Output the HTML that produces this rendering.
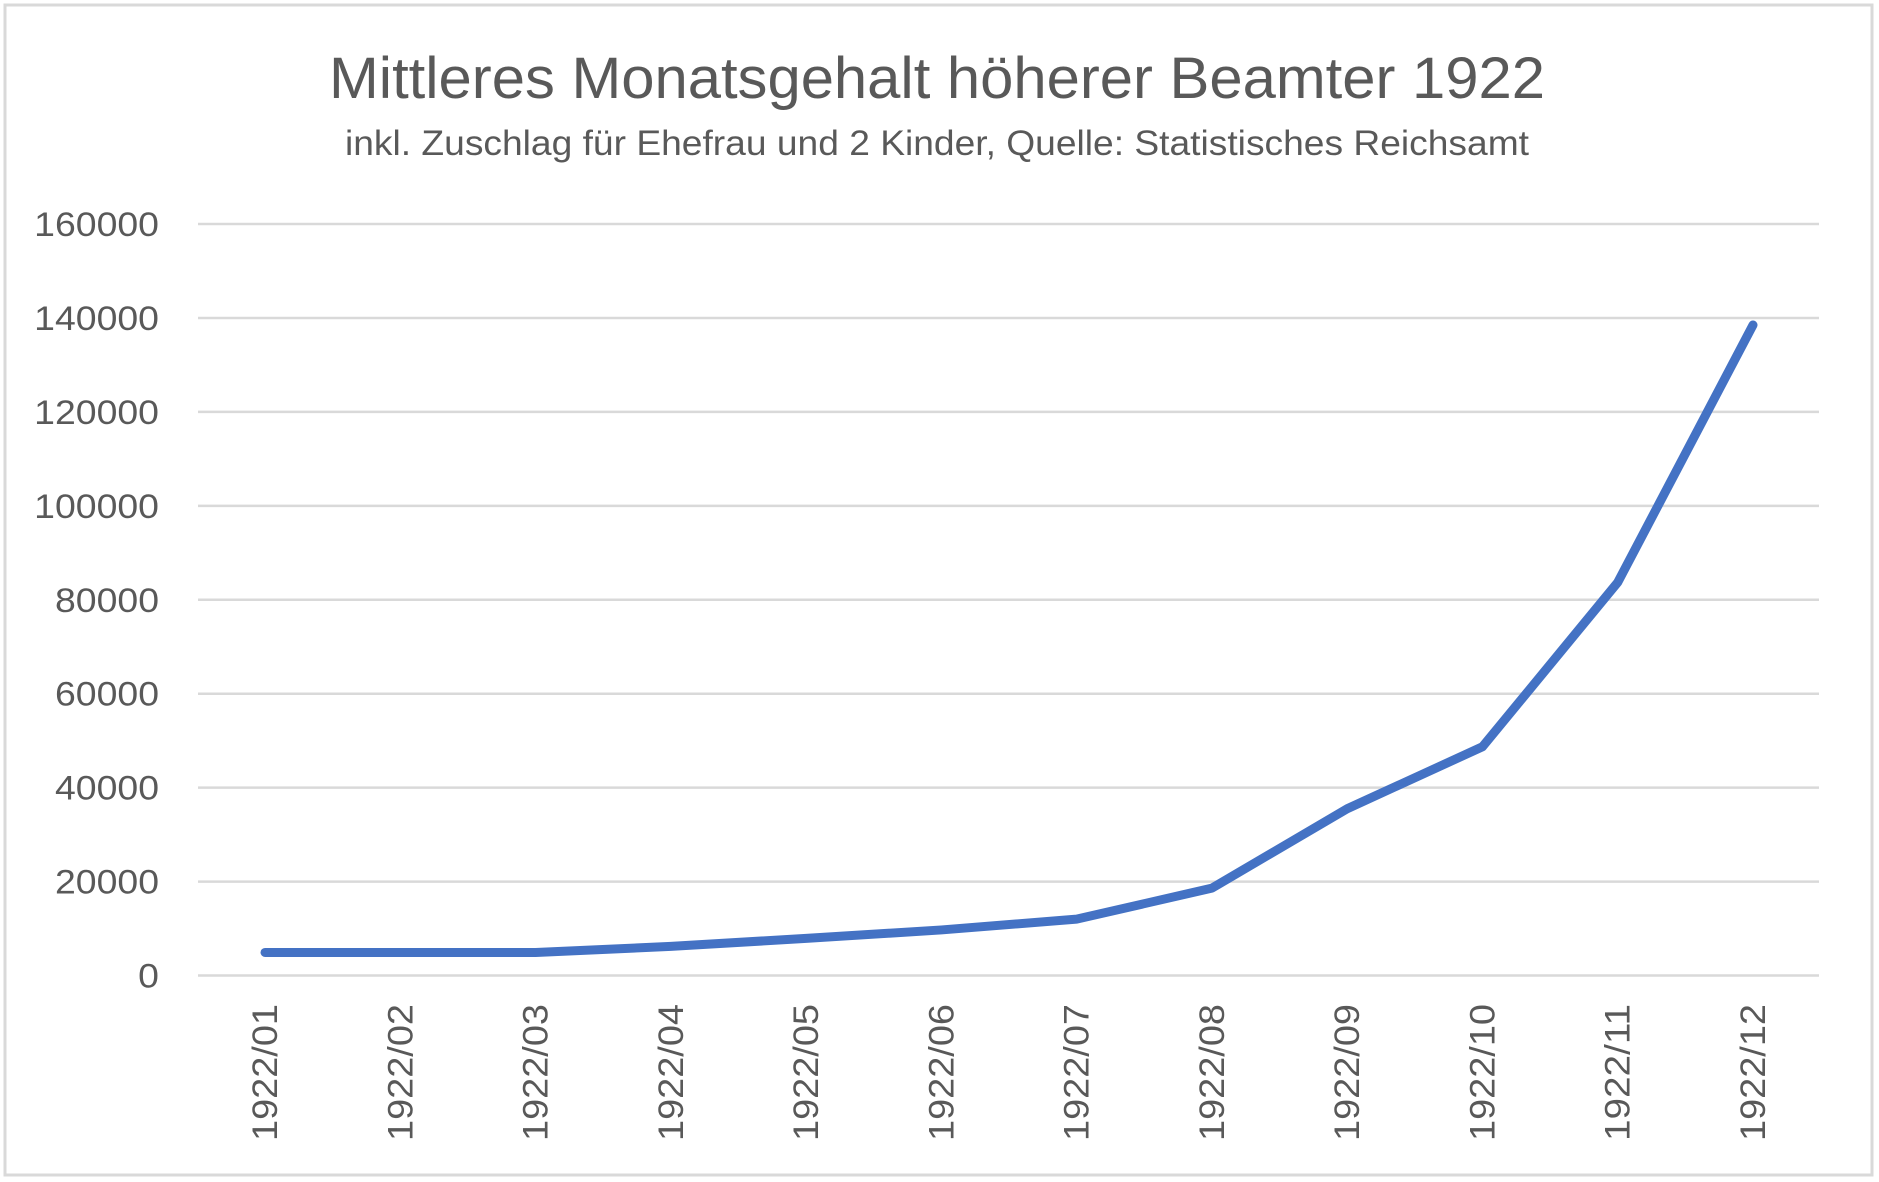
<!DOCTYPE html>
<html><head><meta charset="utf-8"><style>
html,body{margin:0;padding:0;background:#fff}
svg{display:block}
text{font-family:"Liberation Sans",sans-serif;fill:#595959}
</style></head><body>
<svg id="chart" width="1879" height="1182">
<rect x="5" y="5" width="1867" height="1170" fill="#fff" stroke="#d9d9d9" stroke-width="3"/>
<text x="937" y="98" font-size="58" text-anchor="middle" textLength="1216" lengthAdjust="spacingAndGlyphs">Mittleres Monatsgehalt höherer Beamter 1922</text>
<text x="937" y="155" font-size="35" text-anchor="middle" textLength="1184" lengthAdjust="spacingAndGlyphs">inkl. Zuschlag für Ehefrau und 2 Kinder, Quelle: Statistisches Reichsamt</text>
<g id="grid"></g><g id="yl"></g><g id="xl"></g><g id="series"></g>
</svg>
<script>
const categories=["1922/01","1922/02","1922/03","1922/04","1922/05","1922/06","1922/07","1922/08","1922/09","1922/10","1922/11","1922/12"];
const salaries=[4900,4900,4900,6200,7900,9700,12000,18600,35500,48700,83700,138500];
const yTicks=[0,20000,40000,60000,80000,100000,120000,140000,160000];
const NS="http://www.w3.org/2000/svg";
const L=198,R=1819,Y0=975.5,Y1=224,X0=265,X1=1753;
const y=v=>Y0-(v/160000)*(Y0-Y1);
const x=i=>X0+i*(X1-X0)/(categories.length-1);
function mk(t,a,p){const e=document.createElementNS(NS,t);for(const k in a)e.setAttribute(k,a[k]);p.appendChild(e);return e;}
const g=document.getElementById('grid'),yl=document.getElementById('yl'),xl=document.getElementById('xl'),s=document.getElementById('series');
yTicks.forEach(v=>{
 const ln=mk('line',{x1:L,x2:R,y1:y(v),y2:y(v),stroke:'#d9d9d9','stroke-width':2.5},g);
 
 
 const str=String(v);
 const t=mk('text',{x:159,y:y(v)+12,'font-size':34,'text-anchor':'end',textLength:str.length*20.8,lengthAdjust:'spacingAndGlyphs'},yl);
 t.textContent=str;
 
 
});
categories.forEach((c,i)=>{
 const t=mk('text',{x:0,y:0,'font-size':35,'text-anchor':'end',textLength:137,lengthAdjust:'spacingAndGlyphs',transform:`translate(${x(i)+12},1004) rotate(-90)`},xl);
 t.textContent=c;
 
 
});
const p=mk('polyline',{points:salaries.map((v,i)=>x(i)+','+y(v)).join(' '),fill:'none',stroke:'#4472C4','stroke-width':9,'stroke-linecap':'round','stroke-linejoin':'round'},s);


</script>
</body></html>
